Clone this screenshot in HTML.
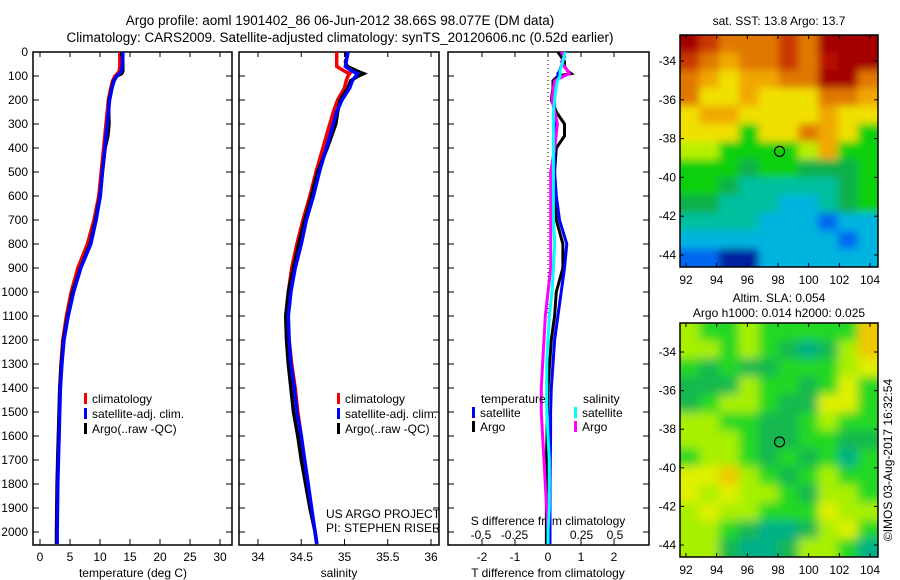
<!DOCTYPE html>
<html><head><meta charset="utf-8"><style>
html,body{margin:0;padding:0;background:#fff;}
svg{display:block;font-family:"Liberation Sans",sans-serif;}
</style></head><body>
<svg id="fig" width="900" height="580" viewBox="0 0 900 580" xmlns="http://www.w3.org/2000/svg">
<defs>
<filter id="blur1" x="-5%" y="-5%" width="110%" height="110%"><feGaussianBlur stdDeviation="4"/></filter>
<filter id="blur2" x="-5%" y="-5%" width="110%" height="110%"><feGaussianBlur stdDeviation="5"/></filter>
<clipPath id="clipMap1"><rect x="680" y="35" width="198" height="232"/></clipPath>
<clipPath id="clipMap2"><rect x="680" y="323" width="198" height="234"/></clipPath>
</defs>
<text x="340" y="25" text-anchor="middle" font-size="13.5">Argo profile: aoml 1901402_86 06-Jun-2012 38.66S 98.077E (DM data)</text>
<text x="340" y="42" text-anchor="middle" font-size="13.5">Climatology: CARS2009. Satellite-adjusted climatology: synTS_20120606.nc (0.52d earlier)</text>
<g id="layer"></g>
</svg>
<script>
const depths = [0,20,40,60,80,90,100,120,150,200,250,300,350,400,500,600,700,800,900,1000,1100,1200,1300,1400,1500,1600,1700,1800,1900,2000,2050];
const tempClim = [13.3,13.3,13.3,13.3,13.2,12.9,12.5,12.1,11.8,11.4,11.2,11.0,10.8,10.6,10.2,9.8,9.0,7.9,6.3,5.2,4.4,3.8,3.5,3.3,3.2,3.1,3.0,2.9,2.85,2.8,2.8];
const tDiffSat = [0.5,0.5,0.45,0.4,0.35,0.3,0.3,0.25,0.2,0.2,0.2,0.2,0.2,0.2,0.2,0.25,0.35,0.57,0.5,0.4,0.3,0.2,0.15,0.1,0.08,0.08,0.07,0.06,0.06,0.06,0.06];
const tDiffArgo = [0.3,0.4,0.5,0.5,0.6,0.7,0.3,0.15,0.15,0.1,0.25,0.5,0.5,0.25,0.2,0.2,0.25,0.45,0.45,0.25,0.2,0.1,0.05,0.0,-0.02,-0.03,-0.05,-0.05,-0.05,-0.05,-0.05];
const salClim = [34.91,34.91,34.91,34.91,35.0,35.06,35.04,35.02,35.0,34.92,34.87,34.83,34.79,34.75,34.67,34.6,34.52,34.45,34.39,34.35,34.34,34.36,34.39,34.43,34.46,34.5,34.53,34.57,34.61,34.66,34.68];
const sDiffSat = [0.13,0.12,0.11,0.1,0.09,0.09,0.09,0.07,0.06,0.05,0.04,0.04,0.04,0.04,0.04,0.04,0.04,0.05,0.04,0.03,0.01,0,-0.01,-0.01,-0.01,0,0.01,0.01,0.01,0,0];
const sDiffArgo = [0.1,0.12,0.1,0.12,0.15,0.16,0.12,0.05,0.04,0.03,0.05,0.07,0.06,0.05,0.02,0.02,0.02,0.02,0.02,0,-0.02,-0.03,-0.04,-0.05,-0.05,-0.04,-0.03,-0.02,-0.01,0,0];
const depthTicks = [0,100,200,300,400,500,600,700,800,900,1000,1100,1200,1300,1400,1500,1600,1700,1800,1900,2000];
const tempTicks = [0,5,10,15,20,25,30];
const salTicks = [34,34.5,35,35.5,36];
const tDiffTicks = [-2,-1,0,1,2];
const sDiffTicks = [-0.5,-0.25,0,0.25,0.5];
const sDiffTickLabels = ["-0.5","-0.25","0","0.25","0.5"];
const lonTicks = [92,94,96,98,100,102,104];
const latTicks = [-34,-36,-38,-40,-42,-44];
const argoLon = 98.1;
const argoLat = -38.66;
const sstRows = [
"DROOORODDD","ROoOOROdDD","OoYooOODDO","OYYoYYYOOo","YooYYYYoYY","YYYGYYOoYG",
"yyGGGGyoGG","GGGgGGgggG","GGgTTTTTgG","ggTTTCCTgG","TTTTCCCBCC","CCCCCCCCBC","BBNNCCCCCC"];
const slaRows = [
"yGGyGGGGGO","yyGyGgTgyO","GgGggGGGyY","gggyGGgGYG","gGyyGggYYG","yyGGggGyGG",
"yyyGggGGgg","GyyGgGgGTG","YYOyGgGyGG","YyYyyGgyyG","yYyyGGGYyy","yyGgTTgyYG","yygTTgyyGT"];
const sstPalette = {D:"#a40000",d:"#b81000",R:"#c83800",O:"#e07800",o:"#f0a800",Y:"#f0e000",y:"#b8f000",G:"#10d010",g:"#10b048",T:"#00c0a0",C:"#00b4e0",B:"#0068f0",N:"#0020a0"};
const slaPalette = {G:"#20d820",g:"#18b850",y:"#a8f000",Y:"#e0f000",O:"#f0c800",T:"#00b088"};

const NS="http://www.w3.org/2000/svg";
const layer=document.getElementById('layer');
function mk(tag,attrs,parent){const e=document.createElementNS(NS,tag);for(const k in attrs)e.setAttribute(k,attrs[k]);(parent||layer).appendChild(e);return e;}
function txt(x,y,s,size,anchor,parent){const t=mk('text',{x:x,y:y,'font-size':size,'text-anchor':anchor||'middle'},parent);t.textContent=s;return t;}

const yD = d => 52 + d*0.24;
const xT = t => 40 + t*6;
const xS = s => 258 + (s-34)*86.5;
const xTd = t => 548 + t*33;
const xSd = s => 548 + s*134;

function frame(x0,x1,name){
  const g=mk('g',{});
  
  
  mk('rect',{x:x0,y:52,width:x1-x0,height:493,fill:'none',stroke:'#000','stroke-width':1.5},g);
  depthTicks.forEach(d=>{mk('line',{x1:x0,x2:x0+6,y1:yD(d),y2:yD(d),stroke:'#000'},g);mk('line',{x1:x1,x2:x1-6,y1:yD(d),y2:yD(d),stroke:'#000'},g);});
  return g;
}
function line(vals,xf,color,name,w){
  const pts=depths.map((d,i)=>xf(vals[i]).toFixed(1)+','+yD(d).toFixed(1)).join(' ');
  const p=mk('polyline',{points:pts,fill:'none',stroke:color,'stroke-width':w||3.5,'stroke-linejoin':'miter'});
  
  
}
function legendEntry(x,y,color,label,name){
  const g=mk('g',{});
  
  
  mk('rect',{x:x,y:y-10,width:3,height:11,fill:color},g);
  txt(x+8,y,label,12,'start',g);
}

frame(33,232,'temperature-panel');
depthTicks.forEach(d=>{txt(28,yD(d)+4,String(d),12,'end');});
tempTicks.forEach(t=>{mk('line',{x1:xT(t),x2:xT(t),y1:52,y2:57,stroke:'#000'});mk('line',{x1:xT(t),x2:xT(t),y1:545,y2:539,stroke:'#000'});txt(xT(t),561,String(t),12);});
txt(133,577,'temperature (deg C)',12);
const tSat=tempClim.map((v,i)=>v+tDiffSat[i]);
const tArgo=tempClim.map((v,i)=>v+tDiffArgo[i]);
line(tempClim,xT,'#f00000','temp-climatology-line');
line(tArgo,xT,'#000','temp-argo-line');
line(tSat,xT,'#0000ff','temp-satellite-line');
legendEntry(84,403,'#f00000','climatology','legend-climatology');
legendEntry(84,418,'#0000ff','satellite-adj. clim.','legend-satellite');
legendEntry(84,433,'#000','Argo(..raw -QC)','legend-argo');

frame(239,439,'salinity-panel');
salTicks.forEach(s=>{mk('line',{x1:xS(s),x2:xS(s),y1:52,y2:57,stroke:'#000'});mk('line',{x1:xS(s),x2:xS(s),y1:545,y2:539,stroke:'#000'});txt(xS(s),561,String(s),12);});
txt(339,577,'salinity',12);
const sSat=salClim.map((v,i)=>v+sDiffSat[i]);
const sArgo=salClim.map((v,i)=>v+sDiffArgo[i]);
line(salClim,xS,'#f00000','sal-climatology-line');
line(sArgo,xS,'#000','sal-argo-line');
line(sSat,xS,'#0000ff','sal-satellite-line');
legendEntry(337,403,'#f00000','climatology','legend2-climatology');
legendEntry(337,418,'#0000ff','satellite-adj. clim.','legend2-satellite');
legendEntry(337,433,'#000','Argo(..raw -QC)','legend2-argo');
txt(326,518,'US ARGO PROJECT',12,'start');
txt(326,532,'PI: STEPHEN RISER',12,'start');

frame(448,649,'difference-panel');
mk('line',{x1:xTd(0),x2:xTd(0),y1:52,y2:545,stroke:'#000','stroke-dasharray':'1,3'});
tDiffTicks.forEach(t=>{mk('line',{x1:xTd(t),x2:xTd(t),y1:52,y2:57,stroke:'#000'});mk('line',{x1:xTd(t),x2:xTd(t),y1:545,y2:539,stroke:'#000'});txt(xTd(t),561,String(t),12);});
sDiffTicks.forEach((s,i)=>{txt(xSd(s),539,sDiffTickLabels[i],12);});
txt(548,525,'S difference from climatology',12);
txt(548,577,'T difference from climatology',12);
line(tDiffArgo,xTd,'#000','tdiff-argo-line',3);
line(tDiffSat,xTd,'#0000ff','tdiff-satellite-line',3);
line(sDiffArgo,xSd,'#ff00ff','sdiff-argo-line',3);
line(sDiffSat,xSd,'#00ffff','sdiff-satellite-line',3);
txt(481,403,'temperature',12,'start');
txt(583,403,'salinity',12,'start');
legendEntry(472,417,'#0000ff','satellite','legend3-t-satellite');
legendEntry(472,431,'#000','Argo','legend3-t-argo');
legendEntry(574,417,'#00ffff','satellite','legend3-s-satellite');
legendEntry(574,431,'#ff00ff','Argo','legend3-s-argo');

function drawMap(y0,h,rows,pal,clip,filter,name,latPx,lat0){
  const g=mk('g',{'clip-path':'url(#'+clip+')'});
  
  
  const inner=mk('g',{filter:'url(#'+filter+')'},g);
  const cw=198/10, ch=h/rows.length;
  rows.forEach((r,ri)=>{[...r].forEach((c,ci)=>{
    let x=680+ci*cw-0.5, y=y0+ri*ch-0.5, w=cw+1, hh=ch+1;
    if(ci===0){x-=12;w+=12;} if(ci===9){w+=12;}
    if(ri===0){y-=12;hh+=12;} if(ri===rows.length-1){hh+=12;}
    mk('rect',{x:x,y:y,width:w,height:hh,fill:pal[c]},inner);
  });});
  mk('rect',{x:680,y:y0,width:198,height:h,fill:'none',stroke:'#000','stroke-width':1.5});
  const xL = lon => 686 + (lon-92)*(184/12);
  const yL = lat => lat0 + (-34-lat)*latPx;
  lonTicks.forEach(l=>{mk('line',{x1:xL(l),x2:xL(l),y1:y0,y2:y0+4,stroke:'#000'});mk('line',{x1:xL(l),x2:xL(l),y1:y0+h,y2:y0+h-4,stroke:'#000'});txt(xL(l),y0+h+17,String(l),12);});
  latTicks.forEach(l=>{mk('line',{x1:680,x2:684,y1:yL(l),y2:yL(l),stroke:'#000'});mk('line',{x1:878,x2:874,y1:yL(l),y2:yL(l),stroke:'#000'});txt(676,yL(l)+4,String(l),12,'end');});
  const c=mk('circle',{cx:xL(argoLon),cy:yL(argoLat),r:5,fill:'none',stroke:'#000','stroke-width':1.2});
  
  
}
drawMap(35,232,sstRows,sstPalette,'clipMap1','blur1','sst-map',19.4,61);
drawMap(323,234,slaRows,slaPalette,'clipMap2','blur2','sla-map',19.3,352);
txt(779,25,'sat. SST: 13.8 Argo: 13.7',12);
txt(779,302,'Altim. SLA: 0.054',12);
txt(779,317,'Argo h1000: 0.014 h2000: 0.025',12);
const rot=txt(0,0,'©IMOS 03-Aug-2017 16:32:54',12);
rot.setAttribute('transform','translate(892,460) rotate(-90)');


</script>
</body></html>
